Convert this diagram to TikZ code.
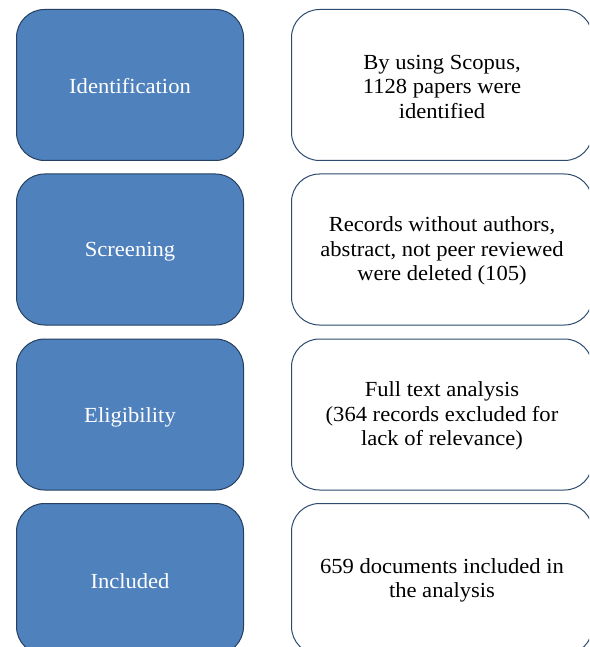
\documentclass[tikz,border=0pt]{standalone}
\usepackage{fontspec}
\setmainfont[FakeStretch=1.05]{Liberation Serif}
\definecolor{stepfill}{HTML}{4F81BD}
\definecolor{stepedge}{HTML}{243F60}
\definecolor{infoedge}{HTML}{2C4B70}
\tikzset{
  x=1pt, y=1pt,
  stagebox/.style={draw=stepedge, fill=stepfill, line width=1pt, rounded corners=28pt,
    minimum width=227pt, minimum height=151pt, inner sep=0pt},
  infobox/.style={draw=infoedge, fill=white, line width=1pt, rounded corners=28pt,
    minimum width=301pt, minimum height=151pt, inner sep=0pt},
  stagetext/.style={text=white, align=center, inner sep=0pt,
    font=\fontsize{21.5}{24.5}\selectfont},
  infotext/.style={text=black, align=center, inner sep=0pt,
    font=\fontsize{21.5}{24.5}\selectfont},
}
\begin{document}
\begin{tikzpicture}
\useasboundingbox (0,0) rectangle (589,-647);
\clip (0,0) rectangle (589,-647);
\fill[white] (0,0) rectangle (589,-647);
\node[stagebox] (s1) at (130,-85) {};
\node[stagebox] (s2) at (130,-249.5) {};
\node[stagebox] (s3) at (130,-414.5) {};
\node[stagebox] (s4) at (130,-579) {};
\node[infobox] (i1) at (442,-85) {};
\node[infobox] (i2) at (442,-249.5) {};
\node[infobox] (i3) at (442,-414.5) {};
\node[infobox] (i4) at (442,-579) {};
\node[stagetext] (s1t) at ([yshift=-1.5pt]s1.center) {Identification};
\node[stagetext] (s2t) at ([yshift=-2.5pt]s2.center) {Screening};
\node[stagetext] (s3t) at ([yshift=-2.5pt]s3.center) {Eligibility};
\node[stagetext] (s4t) at ([yshift=-2.5pt]s4.center) {Included};
\node[infotext] (i1t) at ([yshift=-1.5pt]i1.center) {By using Scopus,\\1128 papers were\\identified};
\node[infotext] (i2t) at ([yshift=-1.5pt]i2.center) {Records without authors,\\abstract, not peer reviewed\\were deleted (105)};
\node[infotext] (i3t) at ([yshift=-1.5pt]i3.center) {Full text analysis\\(364 records excluded for\\lack of relevance)};
\node[infotext] (i4t) at ([yshift=-1.5pt]i4.center) {659 documents included in\\the analysis};
\end{tikzpicture}
\end{document}
